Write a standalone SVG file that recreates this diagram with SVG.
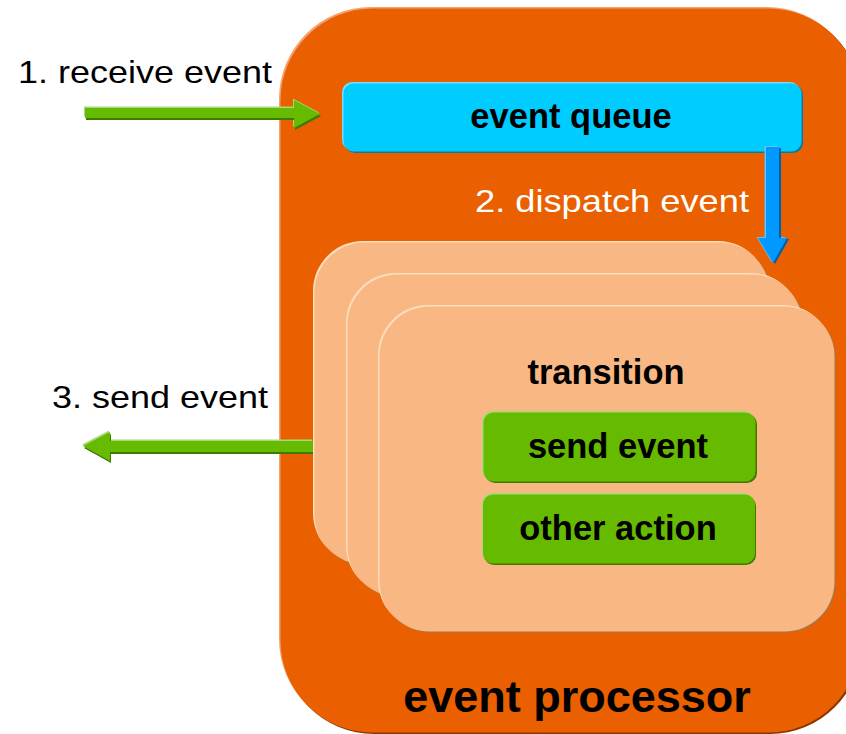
<svg xmlns="http://www.w3.org/2000/svg" xmlns:xlink="http://www.w3.org/1999/xlink" width="846" height="734" viewBox="0 0 846 734">
<style>
.lbl{font-family:"Liberation Sans",Arial,sans-serif;font-size:32px;fill:#000}
.blbl{font-family:"Liberation Sans",Arial,sans-serif;font-weight:bold;font-size:34.5px;fill:#000;text-anchor:middle}
.o-l{fill:#F3A272}.o-d{fill:#8E3600}.o-m{fill:#EA5F00}
.c-l{fill:#FDDDBF}.c-d{fill:#A27652}.c-m{fill:#F9B883}
.b-l{fill:#70DEFF}.b-d{fill:#0A7A9A}.b-m{fill:#00CCFF}
.g-l{fill:#A6D97A}.g-d{fill:#3C7A00}.g-m{fill:#66BB00}
.a-l{fill:#66C2FF}.a-d{fill:#0060A8}.a-m{fill:#0099FF}
</style>
<defs>
<rect id="bigbox" x="0" y="0" width="580" height="724" rx="92"/>
<rect id="card" x="0" y="0" width="455" height="322" rx="50"/>
<rect id="card3" x="0" y="0" width="455" height="325" rx="50"/>
<rect id="qbox" x="0" y="0" width="458" height="68" rx="10"/>
<rect id="abox" x="0" y="0" width="272" height="69" rx="10"/>
<path id="arr1" d="M85,108 H294 V100 L320,114 L294,128 V118 H85 Z"/>
<path id="arr3" d="M313,441 H110 V432 L83,446 L110,461 V452 H313 Z"/>
<path id="arr2" d="M766,147 V238 H758 L773,263 L787,238 H779 V147 Z"/>
</defs>

<g id="event-processor">
<use xlink:href="#bigbox" class="o-l" x="279" y="7"/>
<use xlink:href="#bigbox" class="o-d" x="282" y="10"/>
<use xlink:href="#bigbox" class="o-m" x="280.5" y="8.5"/>
<text class="blbl" x="577" y="712" style="font-size:45px">event processor</text>
</g>

<g id="event-queue">
<use xlink:href="#qbox" class="b-l" x="342" y="82"/>
<use xlink:href="#qbox" class="b-d" x="345" y="85"/>
<use xlink:href="#qbox" class="b-m" x="343.5" y="83.5"/>
<text class="blbl" x="571" y="128">event queue</text>
</g>

<g id="connectors">
<use xlink:href="#arr1" class="g-l" x="-1" y="-1.5"/>
<use xlink:href="#arr1" class="g-d" x="1" y="2"/>
<use xlink:href="#arr1" class="g-m"/>
<use xlink:href="#arr3" class="g-l" x="-1" y="-1.5"/>
<use xlink:href="#arr3" class="g-d" x="1" y="2"/>
<use xlink:href="#arr3" class="g-m"/>
<use xlink:href="#arr2" class="a-l" x="-1.5" y="-1"/>
<use xlink:href="#arr2" class="a-d" x="2" y="1"/>
<use xlink:href="#arr2" class="a-m"/>
</g>

<g id="transition-1">
<use xlink:href="#card" class="c-l" x="313" y="241"/>
<use xlink:href="#card" class="c-d" x="315.5" y="243.5"/>
<use xlink:href="#card" class="c-m" x="314.5" y="242.5"/>
</g>
<g id="transition-2">
<use xlink:href="#card" class="c-l" x="346" y="273"/>
<use xlink:href="#card" class="c-d" x="348.5" y="275.5"/>
<use xlink:href="#card" class="c-m" x="347.5" y="274.5"/>
</g>
<g id="transition">
<use xlink:href="#card3" class="c-l" x="378" y="305"/>
<use xlink:href="#card3" class="c-d" x="380.5" y="307.5"/>
<use xlink:href="#card3" class="c-m" x="379.5" y="306.5"/>
<text class="blbl" x="606" y="384">transition</text>
</g>

<g id="send-event">
<use xlink:href="#abox" class="g-l" x="482" y="411"/>
<use xlink:href="#abox" class="g-d" x="485" y="414"/>
<use xlink:href="#abox" class="g-m" x="483.5" y="412.5"/>
<text class="blbl" x="618" y="458">send event</text>
</g>

<g id="other-action">
<use xlink:href="#abox" class="g-l" x="482" y="493"/>
<use xlink:href="#abox" class="g-d" x="484" y="496"/>
<use xlink:href="#abox" class="g-m" x="483" y="494.5"/>
<text class="blbl" x="618" y="540">other action</text>
</g>

<g id="labels">
<text class="lbl" x="18" y="83" textLength="254" lengthAdjust="spacingAndGlyphs">1. receive event</text>
<text class="lbl" x="475" y="212" textLength="274" lengthAdjust="spacingAndGlyphs" style="fill:#fff">2. dispatch event</text>
<text class="lbl" x="52" y="408" textLength="216" lengthAdjust="spacingAndGlyphs">3. send event</text>
</g>
</svg>
